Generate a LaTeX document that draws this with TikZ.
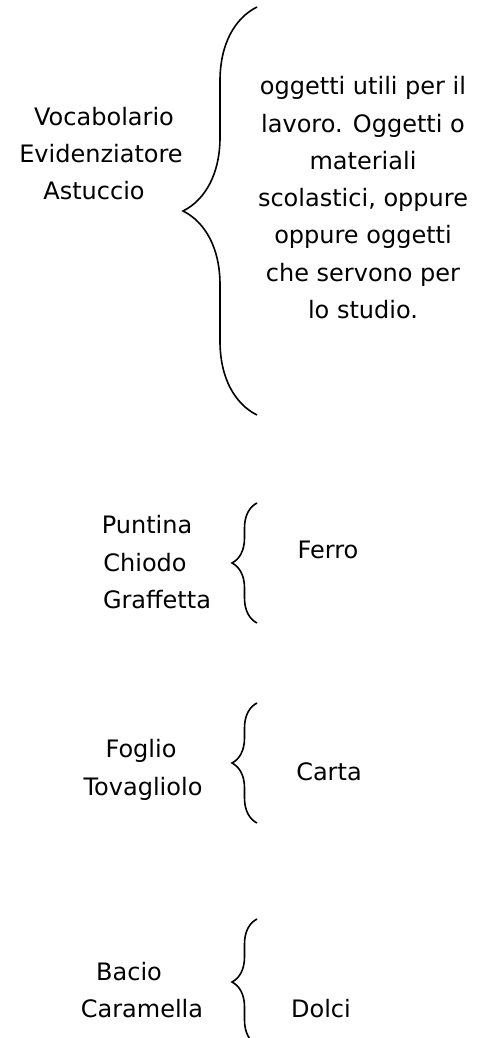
\documentclass[tikz,border=0pt]{standalone}
\usepackage{fontspec}
\setmainfont{DejaVu Sans}
\usetikzlibrary{decorations.pathreplacing}
\newcommand\wordsize[0]{\fontsize{24}{30}\selectfont}

\tikzset{
  word/.style={font=\wordsize, inner sep=0pt, anchor=base},
  bigbrace/.style={line width=1.6pt, decorate, decoration={brace, amplitude=74pt}},
  smallbrace/.style={line width=1.6pt, decorate, decoration={brace, amplitude=25pt}}
}

\begin{document}
\begin{tikzpicture}[x=1pt,y=1pt]

\useasboundingbox (0,0) rectangle (479,-1038);
\clip (0,0) rectangle (479,-1038);

% brace ends
\coordinate (B1) at (257,-415);
\coordinate (T1) at (257,-7);
\coordinate (B2) at (257,-623);
\coordinate (T2) at (257,-503);
\coordinate (B3) at (257,-823);
\coordinate (T3) at (257,-703);
\coordinate (B4) at (257,-1045);
\coordinate (T4) at (257,-919);

\draw[bigbrace] (B1) -- (T1);
\draw[smallbrace] (B2) -- (T2);
\draw[smallbrace] (B3) -- (T3);
\draw[smallbrace] (B4) -- (T4);

% first group
\node[word] (voc) at (104,-125) {Vocabolario};
\node[word] (evid) at (101,-162) {Evidenziatore};
\node[word] (ast) at (94,-199) {Astuccio};

\foreach \t [count=\i] in {oggetti utili per il, lavoro. Oggetti o, materiali,
    {scolastici, oppure}, oppure oggetti, che servono per, lo studio.}
  \node[word] (def\i) at (363,{-95-37.2*(\i-1)}) {\t};

% second group
\node[word] (punt) at (147,-533) {Puntina};
\node[word] (chio) at (145,-571) {Chiodo};
\node[word] (graf) at (157,-608) {Graffetta};
\node[word] (ferro) at (328,-558) {Ferro};

% third group
\node[word] (fogl) at (141,-757) {Foglio};
\node[word] (tova) at (143,-795) {Tovagliolo};
\node[word] (carta) at (329,-780) {Carta};

% fourth group
\node[word] (bacio) at (129,-980) {Bacio};
\node[word] (caram) at (142,-1017) {Caramella};
\node[word] (dolci) at (321,-1017) {Dolci};

\end{tikzpicture}
\end{document}
